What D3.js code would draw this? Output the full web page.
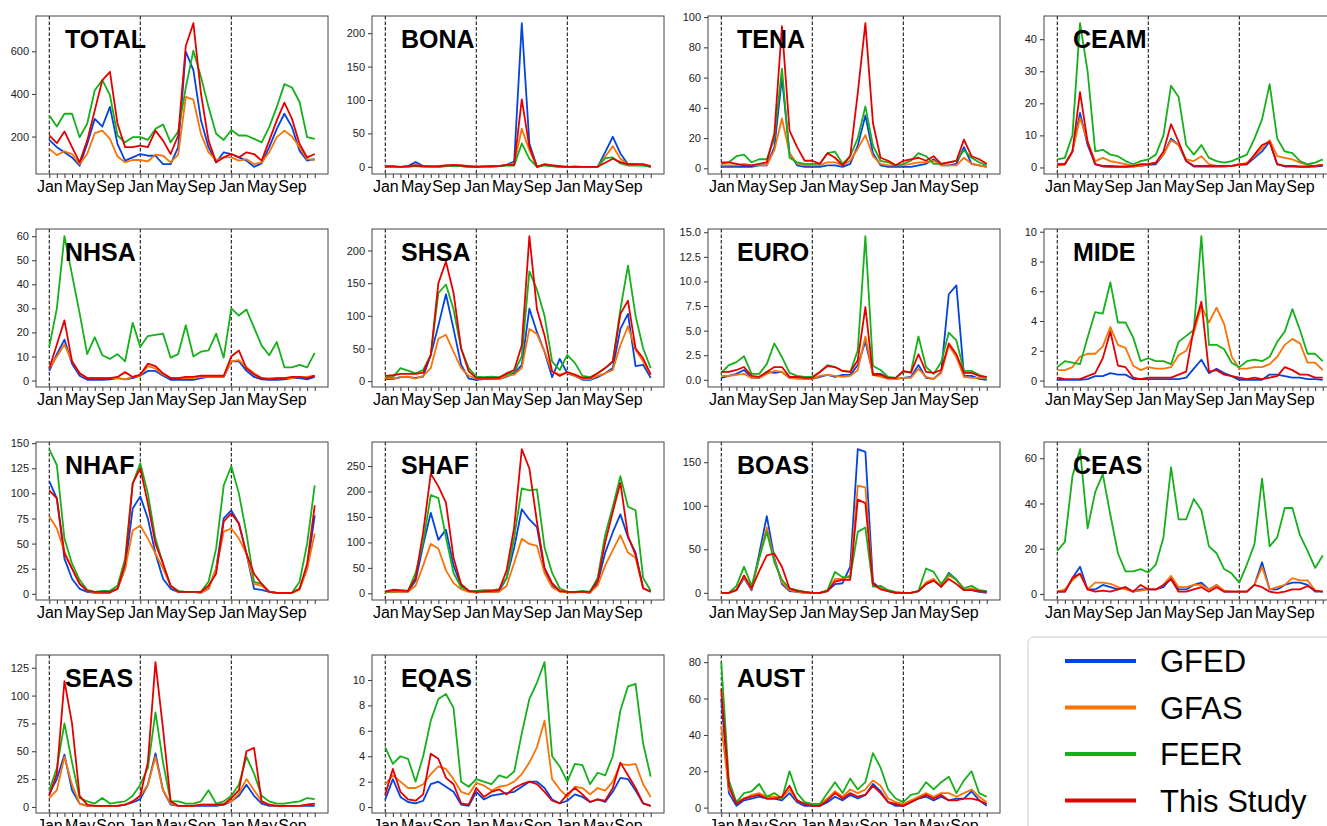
<!DOCTYPE html>
<html>
<head>
<meta charset="utf-8">
<script src="https://cdn.jsdelivr.net/npm/d3@7"></script>
<style>
  body { margin: 0; background: #fff; }
  text { font-family: "Liberation Sans", Arial, sans-serif; }
</style>
</head>
<body>
<div id="chart"></div>
<script>
// Constants:
var MARGIN = { left: 36, top: 16 },
  PANEL_W = 292,
  PANEL_H = 158,
  COL_STEP = 336,
  ROW_STEP = 213,
  COLS = 4;

var series = ["GFED", "GFAS", "FEER", "This Study"];
var colors = ["#0343df", "#f97306", "#15b01a", "#e50000"];
var monthLabels = ["Jan", "", "", "", "May", "", "", "", "Sep", "", "", ""];
var regions = ["TOTAL", "BONA", "TENA", "CEAM", "NHSA", "SHSA", "EURO", "MIDE",
  "NHAF", "SHAF", "BOAS", "CEAS", "SEAS", "EQAS", "AUST"];

// monthly values, 3 years, per region: [GFED, GFAS, FEER, This Study]
var TOTAL = [
  [184,150,126,102,63,165,283,247,339,165,87,102, 118,110,110,71,71,150,598,512,276,150,79,126, 118,102,87,58,74,150,236,307,244,134,87,94],
  [142,113,131,118,71,118,216,228,189,106,79,90, 90,83,115,110,79,115,386,373,213,126,90,102, 102,87,94,71,79,126,197,228,200,150,94,90],
  [299,247,307,307,197,260,417,465,394,205,173,197, 197,184,236,257,173,224,430,603,480,339,213,184, 231,205,205,189,173,244,339,446,430,362,197,189],
  [205,169,224,150,79,181,323,465,504,260,150,150, 157,150,228,181,118,205,625,732,402,181,79,102, 118,102,126,118,87,181,276,359,283,165,102,118]
];
var BONA = [
  [0,0,0,1,7,1,0,0,1,1,1,0, 0,0,1,1,3,8,215,35,0,3,1,0, 0,0,0,0,0,22,45,20,4,4,2,0],
  [1,1,0,0,3,1,0,0,1,2,2,1, 1,0,0,1,3,4,57,25,0,3,2,1, 0,1,0,0,0,15,31,12,4,4,3,1],
  [0,0,0,0,1,0,0,0,2,1,1,0, 0,0,0,1,2,2,35,12,0,2,1,0, 0,0,0,0,0,13,14,5,2,2,2,0],
  [1,1,0,1,2,1,1,1,2,3,2,1, 0,1,1,1,3,3,101,30,0,4,2,1, 0,0,0,0,0,6,12,7,4,4,4,1]
];
var TENA = [
  [1,1,1,1,1,2,2,14,60,10,2,1, 1,1,2,2,1,3,15,35,10,2,1,1, 1,1,2,3,6,2,2,3,14,3,2,1],
  [2,2,2,3,2,2,2,12,33,10,3,2, 2,2,4,4,2,5,13,22,8,3,2,2, 2,3,4,4,5,2,2,2,7,3,2,1],
  [3,4,8,9,4,6,6,20,66,7,4,3, 3,3,10,11,3,8,20,41,15,5,4,2, 3,5,10,8,3,3,4,5,12,7,4,2],
  [4,4,3,2,2,3,4,23,94,25,14,5, 5,3,10,7,2,8,50,96,30,7,5,2, 5,6,7,5,8,3,4,5,19,8,6,3]
];
var CEAM = [
  [1,1,5,17,7,1,0.3,0.2,0.2,0.2,0.3,0.5, 0.8,1,4,9,7,2,0.3,0.3,0.3,0.3,0.3,0.5, 0.8,1,3,5,8,1,0.3,0.3,0.2,0.2,0.3,0.5],
  [0.5,1,5,15.5,8,2,3,2,1.5,1,0.5,0.5, 1,1.5,4,8.5,7,2.5,2,3.5,1,0.5,0.5,0.5, 0.8,1.5,3.5,6,8.5,3.5,3,2.5,1.5,0.8,0.5,0.8],
  [2.5,3,10,45,30,5,5.5,4,3.5,2,1,2, 2.5,4,10,25.5,22,7,4,7,3,2,1.5,2, 3,4,9,15,26,9,5,4.5,2,1,1.5,2.5],
  [1,1,5,23.5,8,1,0.5,0.5,0.3,0.3,0.5,1, 1,1.5,5,13.5,8,2,0.5,0.5,0.5,0.5,0.5,0.5, 1,1,4,7,8,1,0.5,0.5,0.3,0.3,0.5,0.8]
];
var NHSA = [
  [4,11,17,7,2,0.3,0.3,0.3,0.5,1,0.5,1, 2,4,4,2,0.3,0.3,0.3,0.3,1,1.5,1.5,1.5, 8,8,4,1.5,0.5,0.3,0.3,0.5,1,1,0.5,1.5],
  [5,10,15,8,3,1,1,1,1,1,0.5,1.5, 2,6,5,2.5,1,1,1,1,1.5,1.5,1.5,1.5, 8,8.5,5.5,3,1,1,1,1,1,1.5,1.5,2],
  [14,30,60,44,28,11,18,10.5,9,11,8,24, 14,18.5,19,19.5,9.5,11,23,10,12,12.5,19.5,9.5, 30,27,29.5,22,14.5,10.5,16,5.5,5.5,6.5,5.5,11.5],
  [5,15,25,8,3,1,1,1,1,1.5,3.5,1.5, 2.5,7,6,3,1,1,1.5,1.5,2,2,2,2, 10,12.5,5,2.5,1,0.5,1,1,1.5,1.5,1,2]
];
var SHSA = [
  [3,3,6,6,5,7,40,85,133,80,25,4, 2,3,3,3,7,12,25,111,75,45,6,34, 12,8,2,2,6,12,20,80,103,23,25,5],
  [5,4,6,7,4,8,20,65,71,45,20,8, 4,4,4,3,8,10,20,80,72,45,15,10, 13,8,3,3,8,12,17,55,84,48,30,10],
  [6,6,20,16,12,17,40,135,148,110,50,20, 7,6,7,6,10,14,38,168,140,100,30,17, 40,28,8,6,12,20,30,110,177,100,50,20],
  [8,9,11,11,11,13,40,150,183,135,50,15, 5,5,5,5,12,17,55,222,110,70,15,8, 14,10,5,5,12,20,30,103,123,50,35,10]
];
var EURO = [
  [0.2,0.4,0.6,1.0,0.2,0.2,0.8,0.7,0.8,0.2,0.2,0.1, 0.1,0.3,0.5,0.3,0.5,0.5,1.5,3.9,0.6,0.6,0.2,0.1, 0.2,0.3,1.5,0.2,0.1,0.8,8.7,9.6,0.4,0.4,0.1,0.0],
  [0.4,0.4,0.5,0.6,0.2,0.2,0.6,0.9,0.8,0.2,0.1,0.1, 0.1,0.4,0.5,0.4,0.3,0.4,1.0,4.4,0.5,0.3,0.1,0.1, 0.2,0.2,1.1,0.3,0.1,0.7,3.5,2.3,0.3,0.2,0.2,0.2],
  [0.7,1.5,1.8,2.4,0.6,0.6,1.6,3.7,2.3,0.7,0.4,0.3, 0.3,0.8,1.5,1.3,0.9,0.8,3.0,14.6,1.4,1.0,0.3,0.2, 0.8,0.8,4.4,1.3,0.6,1.8,4.8,4.0,0.9,0.9,0.5,0.2],
  [0.8,0.8,1.0,1.3,0.4,0.3,0.8,1.3,1.3,0.3,0.3,0.2, 0.2,0.8,1.4,1.3,0.9,0.8,2.0,7.4,0.5,0.5,0.2,0.2, 0.9,0.7,2.6,0.8,0.7,1.0,3.7,2.6,0.7,0.7,0.4,0.3]
];
var MIDE = [
  [0.05,0.05,0.05,0.05,0.1,0.3,0.3,0.5,0.4,0.4,0.1,0.1, 0.1,0.1,0.1,0.1,0.1,0.2,0.8,1.4,0.5,0.8,0.5,0.3, 0.05,0.05,0.05,0.05,0.4,0.4,0.3,0.2,0.2,0.1,0.1,0.05],
  [0.7,0.7,0.9,1.6,1.8,1.8,2.3,3.6,2.4,2.2,1.0,0.7, 0.9,0.8,0.8,0.9,1.7,2.0,3.2,5.0,3.9,4.9,3.8,1.6, 0.8,0.8,0.9,0.9,1.1,1.6,2.4,2.8,2.5,1.2,1.2,0.7],
  [0.9,1.3,1.2,1.1,2.9,4.6,4.5,6.6,3.9,3.9,2.9,1.3, 1.5,1.3,1.3,1.1,2.6,3.0,3.4,9.7,2.4,2.4,2.1,1.2, 0.9,1.3,1.4,1.3,1.6,2.6,3.3,4.8,3.4,1.8,1.8,1.3],
  [0.2,0.1,0.1,0.1,0.3,0.5,1.5,3.3,1.0,0.9,0.2,0.1, 0.2,0.2,0.2,0.2,0.4,0.6,3.5,5.3,0.6,0.7,0.4,0.3, 0.2,0.1,0.2,0.1,0.2,0.3,0.9,0.7,0.4,0.4,0.2,0.2]
];
var NHAF = [
  [112,95,35,15,5,2,1,1,1,5,25,85, 97,75,40,15,5,2,2,2,1,5,25,75, 83,70,40,5,4,2,1,1,1,5,25,78],
  [77,65,42,25,10,3,1,2,2,5,25,63, 68,55,40,25,8,2,2,2,1,5,25,62, 65,55,40,10,8,2,1,1,1,4,25,60],
  [144,128,55,30,14,4,2,3,3,8,35,110, 130,100,55,30,8,3,2,2,2,12,45,108, 127,100,60,12,10,2,1,1,1,12,50,108],
  [103,95,40,25,10,3,2,2,2,5,30,110, 125,90,50,30,8,2,2,2,2,8,20,72, 80,70,40,20,10,2,1,1,1,5,30,88]
];
var SHAF = [
  [3,3,4,3,25,95,158,105,125,55,15,4, 2,3,3,4,30,90,165,145,130,45,15,4, 2,2,3,1,20,80,120,155,110,80,10,3],
  [2,3,3,3,15,55,97,88,45,20,8,3, 2,3,3,3,15,60,107,97,93,40,12,3, 2,2,3,2,15,55,85,114,80,70,10,3],
  [3,4,5,5,40,100,193,187,110,40,12,5, 5,6,6,8,30,110,206,202,204,90,40,10, 3,3,5,3,30,115,170,230,170,163,30,5],
  [4,7,6,5,30,120,235,210,178,70,18,5, 3,4,5,6,45,130,283,245,140,50,20,5, 3,3,3,3,25,100,160,217,113,75,10,3]
];
var BOAS = [
  [0,0,3,17,3,45,88,40,10,2,1,0, 0,0,2,10,11,30,165,162,12,5,2,0, 0,0,2,10,15,7,23,15,3,3,1,0],
  [0,0,4,18,4,40,75,38,12,3,1,0, 0,0,2,16,16,20,123,121,8,5,2,0, 0,0,2,12,16,7,20,15,3,5,2,1],
  [0,0,8,30,8,40,70,35,15,5,3,1, 0,0,3,24,18,18,70,75,7,8,3,1, 0,0,2,28,24,10,22,15,5,8,3,2],
  [0,0,3,20,5,25,43,45,30,5,2,1, 0,0,2,13,15,15,107,103,10,4,2,0, 0,0,2,10,14,7,16,10,3,3,2,1]
];
var CEAS = [
  [1,1,7,12,2,2,4,3,2,3,1,2, 2,2,3,7,2,2,4,5,2,4,1,1, 1,1,4,14,2,2,4,5,5,4,1,1],
  [1,2,6,9,2,5,5,4.5,3,2,1,1.5, 2,2,4,8,3,3,4,4,2,4,1.5,1, 1,1,4,12,2,3,4,7,6,6,1.5,1],
  [19,23,52,64,29,45,53,35,18,10,10,11, 9.5,13,25,56,33,33,42,37,21,18,11,9, 5,13,22,51,21,25,38,38,26,19,11.5,17],
  [1,1,7,9,2,1,1.5,1,2,3,1,4, 2,2,4,6.5,1,1,2,3,1,3,1,1, 1,1,4,3,1,0.5,1,2,2,3.5,1.5,1]
];
var SEAS = [
  [12,25,47,15,3,1,1,1,1,1,2,4, 7,20,48,15,2,1,1,1,1,1,1,2, 5,10,20,10,3,1,1,1,1,1,1,1],
  [8,15,45,20,3,1,1,1,1,1,2,5, 10,20,45,15,3,1,1,1,2,2,2,3, 5,12,25,15,5,2,1,1,1,1,2,3],
  [15,35,75,40,8,5,3,8,3,4,5,10, 20,35,85,40,5,5,3,3,5,15,3,5, 10,20,45,30,10,5,3,3,4,5,8,7],
  [10,30,113,75,10,2,1,1,1,1,2,5, 10,40,130,70,5,1,1,1,2,2,2,2, 8,15,50,53,5,2,1,1,1,1,2,3]
];
var EQAS = [
  [0.6,2.2,0.8,0.4,0.3,0.5,1.8,2.0,1.6,1.2,0.2,0.1, 1.2,0.6,0.9,1.0,1.1,1.2,1.6,2.0,2.0,1.5,0.6,0.3, 0.5,1.0,0.8,0.4,0.6,0.4,1.2,2.3,2.2,1.3,0.3,0.1],
  [1.8,2.5,2.0,1.5,1.5,1.8,2.6,3.2,3.0,2.2,1.2,1.0, 1.9,1.7,1.3,1.6,1.7,2.0,2.6,3.5,4.7,6.8,2.2,1.4, 0.8,1.6,1.5,1.0,1.5,1.3,2.0,3.4,3.3,3.4,1.8,0.8],
  [4.7,3.4,4.0,3.8,2.0,4.0,6.8,8.5,8.9,7.8,2.0,1.6, 2.2,2.0,1.8,2.5,2.3,2.8,5.8,8.5,9.8,11.4,4.0,3.2, 2.0,3.4,3.3,1.8,2.7,2.5,4.0,7.6,9.5,9.7,5.0,2.4],
  [1.0,3.0,1.2,0.6,0.5,1.0,4.2,3.8,2.3,1.8,0.3,0.2, 1.5,0.8,1.2,1.4,1.0,1.5,1.8,2.0,1.8,1.2,0.5,0.3, 1.0,1.5,1.0,0.4,0.6,0.5,1.5,3.5,2.5,1.5,0.3,0.1]
];
var AUST = [
  [60,8,1,4,5,6,5,5,4,8,3,1, 1,1,3,6,4,7,5,7,13,9,3,1, 1,3,5,6,4,6,4,5,5,9,4,1],
  [45,10,3,5,7,8,6,6,5,10,4,2, 2,2,5,9,6,10,8,10,15,12,5,3, 2,4,6,8,6,8,8,6,8,10,6,3],
  [80,15,3,8,9,13,6,8,5,20,8,3, 2,2,8,14,8,16,10,14,30,22,10,5, 3,7,8,14,10,14,17,8,15,20,8,6],
  [65,12,2,5,6,7,5,5,6,12,4,2, 1,1,4,8,5,8,6,7,12,8,3,2, 1,3,5,7,5,7,4,4,5,5,4,2]
];

var regionData = {
  TOTAL: TOTAL, BONA: BONA, TENA: TENA, CEAM: CEAM, NHSA: NHSA, SHSA: SHSA,
  EURO: EURO, MIDE: MIDE, NHAF: NHAF, SHAF: SHAF, BOAS: BOAS, CEAS: CEAS,
  SEAS: SEAS, EQAS: EQAS, AUST: AUST
};
var regionTicks = {
  TOTAL: [200, 400, 600], BONA: [0, 50, 100, 150, 200], TENA: [0, 20, 40, 60, 80, 100],
  CEAM: [0, 10, 20, 30, 40], NHSA: [0, 10, 20, 30, 40, 50, 60], SHSA: [0, 50, 100, 150, 200],
  EURO: [0, 2.5, 5, 7.5, 10, 12.5, 15], MIDE: [0, 2, 4, 6, 8, 10],
  NHAF: [0, 25, 50, 75, 100, 125, 150], SHAF: [0, 50, 100, 150, 200, 250],
  BOAS: [0, 50, 100, 150], CEAS: [0, 20, 40, 60], SEAS: [0, 25, 50, 75, 100, 125],
  EQAS: [0, 2, 4, 6, 8, 10], AUST: [0, 20, 40, 60, 80]
};

var months = d3.range(36);

var svg = d3.select("#chart").append("svg")
  .attr("width", 1327)
  .attr("height", 826)
  .style("background", "#fff");

// one matplotlib-like axes per region
regions.forEach(function(name, k) {
  var col = k % COLS, row = Math.floor(k / COLS);
  var vals = regionData[name];
  var g = svg.append("g")
    .attr("transform", "translate(" + (MARGIN.left + col * COL_STEP) + "," + (MARGIN.top + row * ROW_STEP) + ")");

  var x = d3.scaleLinear().domain([-1.75, 36.75]).range([0, PANEL_W]);
  var lo = d3.min(vals, function(s) { return d3.min(s); }),
    hi = d3.max(vals, function(s) { return d3.max(s); }),
    pad = (hi - lo) * 0.05;
  var y = d3.scaleLinear().domain([lo - pad, hi + pad]).range([PANEL_H, 0]);

  // y axis
  var yAxis = d3.axisLeft(y).tickValues(regionTicks[name]).tickSize(4).tickPadding(3)
    .tickFormat(name === "EURO" ? d3.format(".1f") : d3.format("d"));
  var ya = g.append("g").call(yAxis);
  ya.select(".domain").remove();
  ya.selectAll("line").attr("stroke", "#333");
  ya.selectAll("text").style("font-size", "11px").attr("fill", "#222");

  // x axis: ticks each month, labels Jan/May/Sep
  var xAxis = d3.axisBottom(x).tickValues(months).tickSize(4).tickPadding(3)
    .tickFormat(function(d) { return monthLabels[d % 12]; });
  var xa = g.append("g").attr("transform", "translate(0," + PANEL_H + ")").call(xAxis);
  xa.select(".domain").remove();
  xa.selectAll("line").attr("stroke", "#333");
  xa.selectAll("text").style("font-size", "16px").attr("fill", "#000");

  // year separators
  g.selectAll("line.year").data([0, 12, 24]).enter().append("line")
    .attr("class", "year")
    .attr("x1", function(d) { return x(d); }).attr("x2", function(d) { return x(d); })
    .attr("y1", 0).attr("y2", PANEL_H)
    .attr("stroke", "#000").attr("stroke-width", 1).attr("stroke-dasharray", "3.5,2");

  var line = d3.line()
    .x(function(d, i) { return x(i); })
    .y(function(d) { return y(d); });

  g.selectAll("path.series").data(vals).enter().append("path")
    .attr("class", "series")
    .attr("d", line)
    .attr("fill", "none")
    .attr("stroke", function(d, i) { return colors[i]; })
    .attr("stroke-width", 1.8)
    .attr("stroke-linejoin", "round");

  // frame
  g.append("rect")
    .attr("width", PANEL_W).attr("height", PANEL_H)
    .attr("fill", "none").attr("stroke", "#444").attr("stroke-width", 1);

  g.append("text")
    .attr("x", 29).attr("y", 32)
    .style("font-size", "25px").style("font-weight", "bold")
    .text(name);
});

// legend
var legend = svg.append("g").attr("transform", "translate(1028,637)");
legend.append("rect")
  .attr("width", 320).attr("height", 210).attr("rx", 6)
  .attr("fill", "#fff").attr("stroke", "#ccc");
var item = legend.selectAll("g.item").data(series).enter().append("g")
  .attr("class", "item")
  .attr("transform", function(d, i) { return "translate(0," + (24 + i * 46.5) + ")"; });
item.append("line")
  .attr("x1", 37).attr("x2", 108)
  .attr("stroke", function(d, i) { return colors[i]; })
  .attr("stroke-width", 4);
item.append("text")
  .attr("x", 132).attr("y", 11)
  .style("font-size", "31px")
  .text(function(d) { return d; });
</script>
</body>
</html>
